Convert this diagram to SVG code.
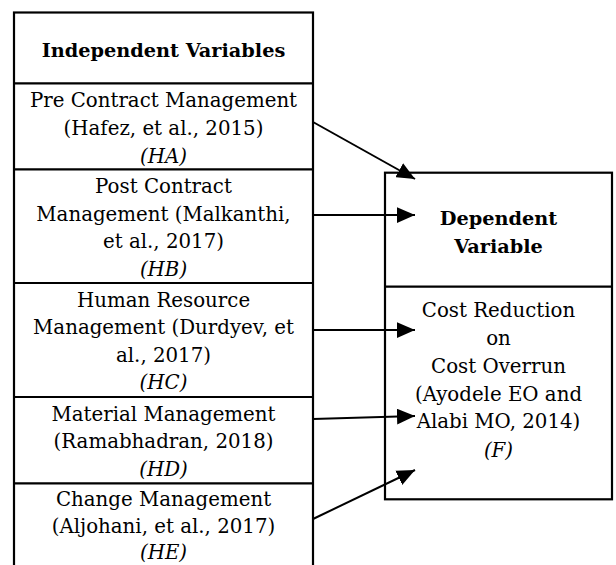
<svg xmlns="http://www.w3.org/2000/svg" width="616" height="565" viewBox="0 0 616 565">
<style>
.box{fill:#fff;stroke:#000;stroke-width:2.2}
.div{stroke:#000;stroke-width:2.2}
.t{font-family:"DejaVu Serif","Liberation Serif",serif;font-size:19.8px;fill:#000;text-anchor:middle}
.b{font-weight:bold;font-size:19.3px}
.i{font-style:italic}
.c{stroke:#000;stroke-width:2;fill:none;marker-end:url(#ah)}
</style>
<defs>
<marker id="ah" markerUnits="userSpaceOnUse" markerWidth="18" markerHeight="16" refX="16" refY="7" orient="auto" viewBox="0 0 16 14">
<path d="M0,0 L16,7 L0,14 z" fill="#000"/>
</marker>
</defs>
<rect width="616" height="565" fill="#fff"/>
<g id="independent">
<rect class="box" x="14" y="12.5" width="299" height="570"/>
<text class="t b" x="163.5" y="57">Independent Variables</text>
</g>
<g id="HA">
<line class="div" x1="14" y1="83.3" x2="313" y2="83.3"/>
<text class="t" x="163.5" y="107">Pre Contract Management</text>
<text class="t" x="163.5" y="134.5">(Hafez, et al., 2015)</text>
<text class="t i" x="163.5" y="162.5">(HA)</text>
</g>
<g id="HB">
<line class="div" x1="14" y1="169.3" x2="313" y2="169.3"/>
<text class="t" x="163.5" y="193">Post Contract</text>
<text class="t" x="163.5" y="220.5">Management (Malkanthi,</text>
<text class="t" x="163.5" y="248">et al., 2017)</text>
<text class="t i" x="163.5" y="275.5">(HB)</text>
</g>
<g id="HC">
<line class="div" x1="14" y1="283" x2="313" y2="283"/>
<text class="t" x="163.5" y="306.5">Human Resource</text>
<text class="t" x="163.5" y="334">Management (Durdyev, et</text>
<text class="t" x="163.5" y="361.5">al., 2017)</text>
<text class="t i" x="163.5" y="389">(HC)</text>
</g>
<g id="HD">
<line class="div" x1="14" y1="397" x2="313" y2="397"/>
<text class="t" x="163.5" y="420.5">Material Management</text>
<text class="t" x="163.5" y="448">(Ramabhadran, 2018)</text>
<text class="t i" x="163.5" y="475.5">(HD)</text>
</g>
<g id="HE">
<line class="div" x1="14" y1="483.3" x2="313" y2="483.3"/>
<text class="t" x="163.5" y="506">Change Management</text>
<text class="t" x="163.5" y="533">(Aljohani, et al., 2017)</text>
<text class="t i" x="163.5" y="559">(HE)</text>
</g>
<g id="dependent">
<rect class="box" x="385" y="172.7" width="227" height="326.6"/>
<line class="div" x1="385" y1="286.7" x2="612" y2="286.7"/>
<text class="t b" x="498.5" y="225">Dependent</text>
<text class="t b" x="498.5" y="252.5">Variable</text>
</g>
<g id="F">
<text class="t" x="498.5" y="316.5">Cost Reduction</text>
<text class="t" x="498.5" y="345">on</text>
<text class="t" x="498.5" y="373">Cost Overrun</text>
<text class="t" x="498.5" y="400.5">(Ayodele EO and</text>
<text class="t" x="498.5" y="428">Alabi MO, 2014)</text>
<text class="t i" x="498.5" y="456.5">(F)</text>
</g>
<g id="connectors">
<line class="c" x1="313" y1="122" x2="415" y2="179"/>
<line class="c" x1="313" y1="215" x2="415" y2="215"/>
<line class="c" x1="313" y1="330" x2="415" y2="330"/>
<line class="c" x1="313" y1="419" x2="415" y2="416"/>
<line class="c" x1="313" y1="519" x2="415" y2="470"/>
</g>
</svg>
